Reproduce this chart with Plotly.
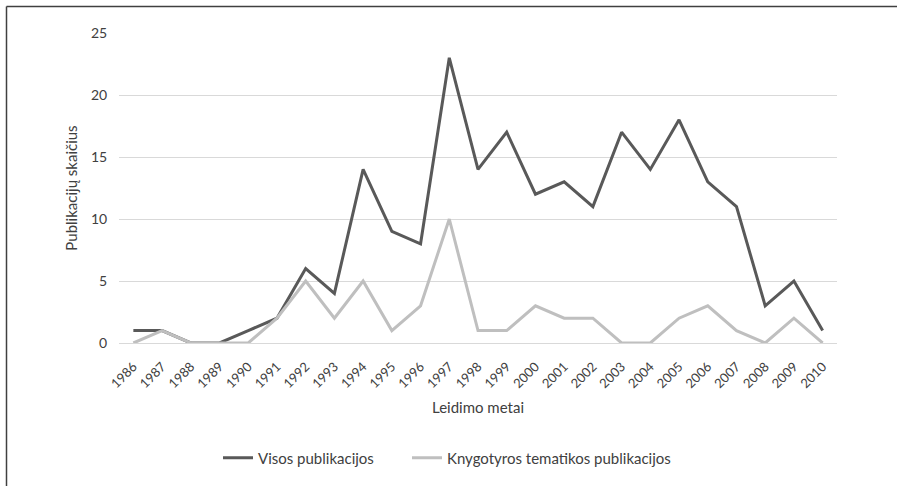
import plotly.graph_objects as go

years = [str(y) for y in range(1986, 2011)]
visos = [1, 1, 0, 0, 1, 2, 6, 4, 14, 9, 8, 23, 14, 17, 12, 13, 11, 17, 14, 18, 13, 11, 3, 5, 1]
knygotyros = [0, 1, 0, 0, 0, 2, 5, 2, 5, 1, 3, 10, 1, 1, 3, 2, 2, 0, 0, 2, 3, 1, 0, 2, 0]
y_ticks = [0, 5, 10, 15, 20, 25]

W, H = 897, 486
L, R, T, B = 119, 60, 33, 143
pw, ph = W - L - R, H - T - B

fig = go.Figure()
fig.add_trace(go.Scatter(x=list(range(len(years))), y=visos, mode="lines",
                         name="Visos publikacijos", legend="legend",
                         line=dict(color="#595959", width=3)))
fig.add_trace(go.Scatter(x=list(range(len(years))), y=knygotyros, mode="lines",
                         name="Knygotyros tematikos publikacijos", legend="legend2",
                         line=dict(color="#bfbfbf", width=3)))

font = "Lato, 'Open Sans', sans-serif"
tc = "#404040"

def px_x(px):
    return (px - L) / pw

def px_y(py):
    return (H - B - py) / ph

leg_common = dict(orientation="h", xanchor="left", yanchor="middle",
                  font=dict(size=15, color=tc), itemwidth=30, bgcolor="rgba(0,0,0,0)")

fig.update_layout(
    width=W, height=H,
    margin=dict(l=L, r=R, t=T, b=B, autoexpand=False),
    paper_bgcolor="white", plot_bgcolor="white",
    font=dict(family=font, size=14, color=tc),
    showlegend=True,
    legend=dict(x=px_x(218), y=px_y(458), **leg_common),
    legend2=dict(x=px_x(407), y=px_y(458), **leg_common),
    xaxis=dict(
        tickmode="array", tickvals=list(range(len(years))), ticktext=years,
        range=[-0.5, len(years) - 0.5], tickangle=-45, showgrid=False,
        showline=False, zeroline=False, ticks="outside", ticklen=10, tickcolor="rgba(0,0,0,0)",
        automargin=False,
        tickfont=dict(size=13, color=tc),
        title=dict(text="Leidimo metai", font=dict(size=15, color=tc), standoff=12),
    ),
    yaxis=dict(
        tickmode="array", tickvals=y_ticks, range=[0, 25],
        showgrid=True, gridcolor="#d9d9d9", gridwidth=1,
        zeroline=True, zerolinecolor="#d9d9d9", zerolinewidth=1,
        showline=False, ticks="outside", ticklen=8, tickcolor="rgba(0,0,0,0)",
        automargin=False,
        tickfont=dict(size=14, color=tc),
        title=dict(text="Publikacijų skaičius", font=dict(size=15, color=tc), standoff=9),
    ),
)

fig.add_shape(type="line", xref="paper", yref="paper",
              x0=px_x(6.5), x1=px_x(W + 5), y0=px_y(6.5), y1=px_y(6.5),
              line=dict(color="#404040", width=1.5), layer="above")
fig.add_shape(type="line", xref="paper", yref="paper",
              x0=px_x(6.5), x1=px_x(6.5), y0=px_y(6.5), y1=px_y(H + 5),
              line=dict(color="#404040", width=1.5), layer="above")

fig.write_html("out.html", config={"displayModeBar": False},
               post_script="document.body.style.margin='0';document.body.style.overflow='hidden';")
